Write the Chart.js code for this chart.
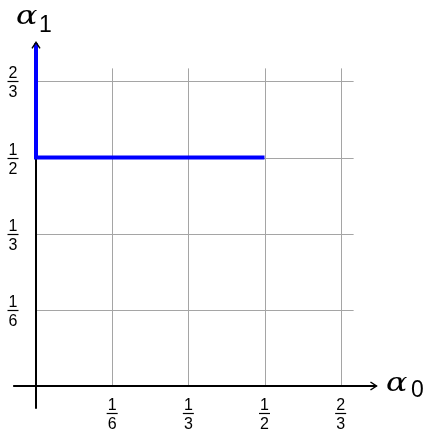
<!DOCTYPE html>
<html>
<head>
<meta charset="utf-8">
<script src="https://cdn.jsdelivr.net/npm/chart.js@4/dist/chart.umd.min.js"></script>
<style>
  html, body { margin: 0; padding: 0; background: #fff; }
  #wrap { width: 430px; height: 433px; }
</style>
</head>
<body>
<div id="wrap"><canvas id="container"></canvas></div>
<script>
// tick positions and their fraction labels (same on both axes)
var tickValues = [1/6, 1/3, 1/2, 2/3];
var tickNums = ['1', '1', '1', '2'];
var tickDens = ['6', '3', '2', '3'];

// the blue path: up the alpha1 axis, down to 1/2, across to 1/2
var pathX = [0, 0, 1/2];
var pathY = [0.75, 1/2, 1/2];

// axis extents and grid extents in data units
var axisMin = -0.05;
var axisMax = 0.745;
var gridMax = 0.695;

var points = pathX.map(function(x, i){ return {x: x, y: pathY[i]}; });

function px(chart, v){ return chart.scales.x.getPixelForValue(v); }
function py(chart, v){ return chart.scales.y.getPixelForValue(v); }

function line(ctx, x1, y1, x2, y2){
    ctx.beginPath();
    ctx.moveTo(x1, y1);
    ctx.lineTo(x2, y2);
    ctx.stroke();
}

function fraction(ctx, cx, barY, num, den){
    ctx.font = '16px "Liberation Sans", Arial, sans-serif';
    ctx.textAlign = 'center';
    ctx.fillStyle = '#000';
    ctx.textBaseline = 'alphabetic';
    ctx.fillText(num, cx, barY - 3);
    ctx.fillText(den, cx, barY + 16);
    ctx.strokeStyle = '#000';
    ctx.lineWidth = 1.2;
    line(ctx, cx - 5.5, Math.round(barY) + 0.5, cx + 5.5, Math.round(barY) + 0.5);
}

// alpha drawn a bit wider, like the TeX glyph
function alpha(ctx, x, y){
    ctx.save();
    ctx.translate(x, y);
    ctx.scale(1.22, 1);
    ctx.font = 'italic 26px "DejaVu Serif", serif';
    ctx.textAlign = 'left';
    ctx.fillText('\u03b1', 0, 0);
    ctx.restore();
}

var axesPlugin = {
    id: 'axesPlugin',
    beforeDatasetsDraw: function(chart){
        var ctx = chart.ctx;
        var x0 = px(chart, 0), y0 = py(chart, 0);
        ctx.save();
        // grid
        ctx.strokeStyle = 'rgb(165,165,165)';
        ctx.lineWidth = 1;
        tickValues.forEach(function(v){
            var gx = Math.round(px(chart, v)) + 0.5;
            var gy = Math.round(py(chart, v)) + 0.5;
            line(ctx, gx, y0, gx, py(chart, gridMax));
            line(ctx, x0, gy, px(chart, gridMax), gy);
        });
        // axes
        ctx.strokeStyle = '#000';
        ctx.lineWidth = 2;
        line(ctx, px(chart, axisMin), y0, px(chart, axisMax), y0);
        line(ctx, x0, py(chart, axisMin), x0, py(chart, axisMax));
        // tick labels
        tickValues.forEach(function(v, i){
            fraction(ctx, px(chart, v), 413, tickNums[i], tickDens[i]);
            fraction(ctx, 13, py(chart, v), tickNums[i], tickDens[i]);
        });
        ctx.restore();
    },
    afterDatasetsDraw: function(chart){
        var ctx = chart.ctx;
        var x0 = px(chart, 0), y0 = py(chart, 0);
        var xe = px(chart, axisMax), ye = py(chart, 0.752);
        ctx.save();
        // arrow heads
        ctx.strokeStyle = '#000';
        ctx.lineWidth = 1.5;
        ctx.beginPath();
        ctx.moveTo(xe - 6, y0 - 4);
        ctx.lineTo(xe, y0);
        ctx.lineTo(xe - 6, y0 + 4);
        ctx.stroke();
        ctx.beginPath();
        ctx.moveTo(x0 - 4, ye + 6);
        ctx.lineTo(x0, ye);
        ctx.lineTo(x0 + 4, ye + 6);
        ctx.stroke();
        // axis names
        ctx.fillStyle = '#000';
        ctx.textBaseline = 'alphabetic';
        alpha(ctx, 16, 24);
        alpha(ctx, 386, 391);
        ctx.font = '23px "Liberation Sans", Arial, sans-serif';
        ctx.textAlign = 'left';
        ctx.fillText('1', 39, 32);
        ctx.fillText('0', 411, 397);
        ctx.restore();
    }
};

var chart = new Chart(document.getElementById('container'), {
    type: 'line',
    data: {
        datasets: [
            {
                data: points,
                borderColor: 'rgb(0,0,255)',
                borderWidth: 4,
                pointRadius: 0,
                tension: 0,
                fill: false
            }
        ]
    },
    options: {
        responsive: true,
        maintainAspectRatio: false,
        animation: false,
        layout: { padding: 0 },
        plugins: {
            legend: { display: false },
            tooltip: { enabled: false }
        },
        scales: {
            x: { type: 'linear', min: -36 / 457, max: 394 / 457, display: false },
            y: { type: 'linear', min: -47 / 457, max: 386 / 457, display: false }
        }
    },
    plugins: [axesPlugin]
});
</script>
</body>
</html>
